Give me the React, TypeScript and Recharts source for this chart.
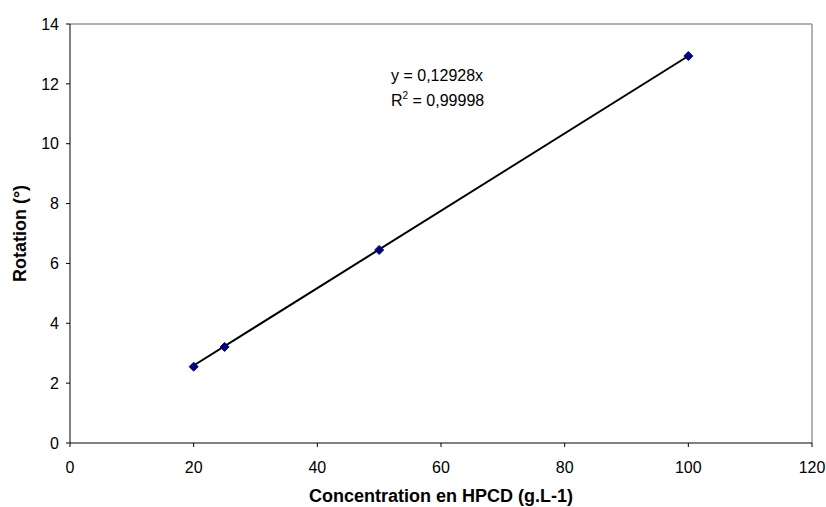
import React from "react";
import {
  ScatterChart,
  Scatter,
  XAxis,
  YAxis,
  ReferenceLine,
  Label,
} from "recharts";

// measured points (concentration g/L, rotation °)
const concentrations = [20, 25, 50, 100];
const rotations = [2.55, 3.21, 6.45, 12.93];

// linear trend y = 0,12928x drawn between first and last point
const trendX = [20, 100];
const trendY = [2.59, 12.93];

const xTicks = [0, 20, 40, 60, 80, 100, 120];
const yTicks = [0, 2, 4, 6, 8, 10, 12, 14];

const points = concentrations.map((c, i) => ({ x: c, y: rotations[i] }));
const trend = trendX.map((c, i) => ({ x: c, y: trendY[i] }));

const FONT = "'Liberation Sans', Arial, sans-serif";

const Diamond = (props: any) => {
  const { cx, cy } = props;
  if (cx == null || cy == null) return null;
  const r = 4.5;
  return (
    <polygon
      points={`${cx},${cy - r} ${cx + r},${cy} ${cx},${cy + r} ${cx - r},${cy}`}
      fill="#000080"
      stroke="#000080"
    />
  );
};

const NoDot = () => null;

// x tick labels sit a bit lower than recharts' default
const XTick = (props: any) => {
  const { x, y, payload } = props;
  return (
    <text x={x} y={y + 24} textAnchor="middle" fill="#000" fontSize={16} fontFamily={FONT}>
      {payload.value}
    </text>
  );
};

export default function App() {
  return (
    <div style={{ position: "absolute", left: 0, top: 0, width: 826, height: 507, background: "#fff", fontFamily: FONT }}>
      <ScatterChart
        width={826}
        height={507}
        margin={{ top: 24, right: 14, bottom: 0, left: 10 }}
      >
        <XAxis
          type="number"
          dataKey="x"
          domain={[0, 120]}
          ticks={xTicks}
          interval={0}
          height={64}
          stroke="#000"
          tickSize={4}
          tick={<XTick />}
        >
          <Label
            value="Concentration en HPCD (g.L-1)"
            position="insideBottom"
            offset={5}
            style={{ fill: "#000", fontSize: 18, fontWeight: "bold", fontFamily: FONT }}
          />
        </XAxis>
        <YAxis
          type="number"
          dataKey="y"
          domain={[0, 14]}
          ticks={yTicks}
          interval={0}
          width={60}
          stroke="#000"
          tickSize={4}
          tick={{ fill: "#000", fontSize: 16, fontFamily: FONT, dx: -5 }}
        >
          <Label
            value="Rotation (°)"
            angle={-90}
            position="insideLeft"
            offset={10}
            style={{ fill: "#000", fontSize: 18, fontWeight: "bold", fontFamily: FONT, textAnchor: "middle" }}
          />
        </YAxis>
        <ReferenceLine y={14} stroke="#999" strokeWidth={1.5} />
        <ReferenceLine x={120} stroke="#999" strokeWidth={1.5} />
        <Scatter
          data={trend}
          line={{ stroke: "#000", strokeWidth: 2 }}
          shape={NoDot}
          isAnimationActive={false}
        />
        <Scatter data={points} shape={Diamond} isAnimationActive={false} />
      </ScatterChart>
      <div
        style={{
          position: "absolute",
          left: 391,
          top: 63,
          fontSize: 16,
          lineHeight: "25px",
          color: "#000",
        }}
      >
        <div>y = 0,12928x</div>
        <div>
          R<sup style={{ fontSize: 10, verticalAlign: "7px", lineHeight: 0 }}>2</sup> = 0,99998
        </div>
      </div>
    </div>
  );
}
